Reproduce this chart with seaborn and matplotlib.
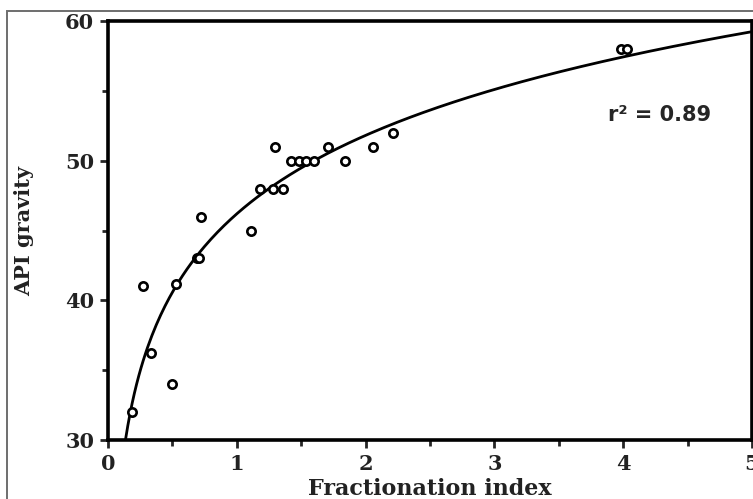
import numpy as np
import pandas as pd
import matplotlib
matplotlib.use("Agg")
import matplotlib.pyplot as plt
from matplotlib.patches import Rectangle
from matplotlib.ticker import MultipleLocator
import seaborn as sns

# Fractionation index vs API gravity of the oils
fractionation_index = [0.19, 0.27, 0.33, 0.50, 0.53, 0.69, 0.71, 0.72, 1.11,
                       1.18, 1.28, 1.36, 1.30, 1.42, 1.48, 1.54, 1.60, 1.71,
                       1.84, 2.06, 2.21, 3.98, 4.03]
api_gravity = [32.0, 41.0, 36.2, 34.0, 41.2, 43.0, 43.0, 46.0, 45.0,
               48.0, 48.0, 48.0, 51.0, 50.0, 50.0, 50.0, 50.0, 51.0,
               50.0, 51.0, 52.0, 58.0, 58.0]
r2_label = "r² = 0.89"

x_ticks = [0, 1, 2, 3, 4, 5]
y_ticks = [30, 40, 50, 60]

df = pd.DataFrame({"fi": fractionation_index, "api": api_gravity})

# logarithmic regression: API = a + b ln(FI)
b, a = np.polyfit(np.log(df["fi"]), df["api"], 1)
x_fit = np.linspace(0.12, 5.2, 300)
fit_df = pd.DataFrame({"fi": x_fit, "api": a + b * np.log(x_fit)})

sns.set_style("ticks")
plt.rcParams["font.family"] = ["DejaVu Serif"]

fig = plt.figure(figsize=(7.53, 4.99), dpi=100)
ax = fig.add_axes([108 / 753, 1 - 440 / 499, 644 / 753, 419 / 499])

sns.lineplot(data=fit_df, x="fi", y="api", ax=ax, color="black",
             linewidth=2.0, sort=True)
sns.scatterplot(data=df, x="fi", y="api", ax=ax, marker="o", s=36,
                facecolor="white", edgecolor="black", linewidth=1.9,
                zorder=3)

ax.set_xlim(0, 5)
ax.set_ylim(30, 60)
ax.set_xticks(x_ticks)
ax.set_yticks(y_ticks)
ax.xaxis.set_minor_locator(MultipleLocator(0.5))
ax.yaxis.set_minor_locator(MultipleLocator(5))
ax.tick_params(axis="both", which="major", direction="out", length=6,
               width=2, labelsize=15, pad=4)
ax.tick_params(axis="both", which="minor", direction="out", length=4,
               width=2)
for lab in ax.get_xticklabels() + ax.get_yticklabels():
    lab.set_fontweight("bold")
    lab.set_color("#222222")

for side in ["left", "bottom", "top", "right"]:
    ax.spines[side].set_visible(True)
    ax.spines[side].set_linewidth(2.6)
    ax.spines[side].set_color("black")

ax.set_xlabel("Fractionation index", fontsize=16, fontweight="bold",
              color="#222222", labelpad=3)
ax.set_ylabel("API gravity", fontsize=15, fontweight="bold",
              color="#222222", labelpad=22)

ax.text(3.88, 53.3, r2_label, fontsize=15, fontweight="bold",
        family=["DejaVu Sans"], va="center", ha="left")

# thin grey frame around the figure
fig.add_artist(Rectangle((7 / 753, -0.2), 1.2, 1 - 11 / 499 + 0.2,
                         transform=fig.transFigure, fill=False,
                         edgecolor="#6e6e6e", linewidth=1.4))

fig.savefig("out.png", dpi=100)
